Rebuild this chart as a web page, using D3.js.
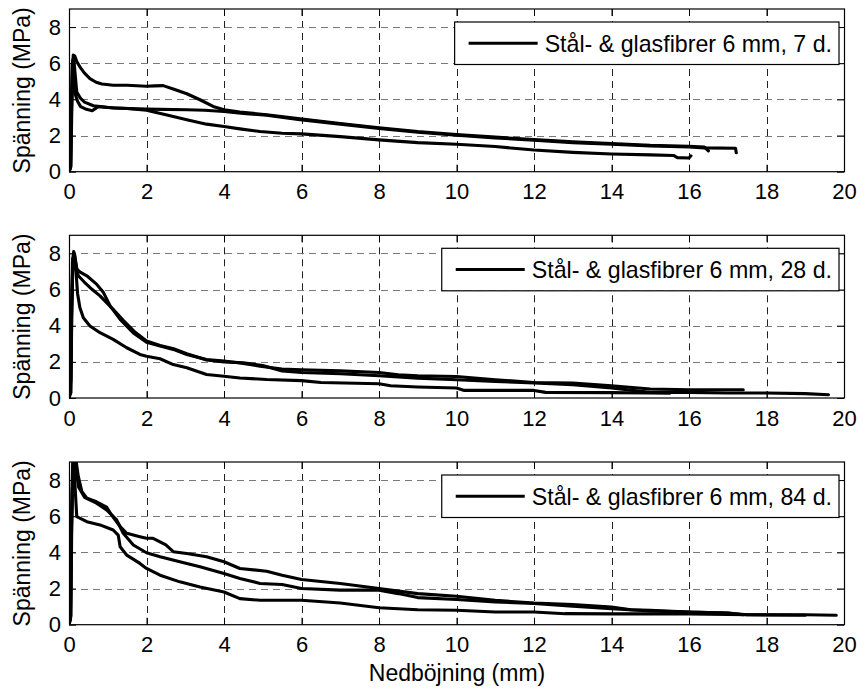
<!DOCTYPE html>
<html><head><meta charset="utf-8">
<script src="https://cdn.jsdelivr.net/npm/d3@7"></script>
<style>body{margin:0;background:#fff}svg{display:block}text{font-family:"Liberation Sans",Arial,sans-serif;fill:#000}</style>
</head><body>
<script>
const xTicks = [0,2,4,6,8,10,12,14,16,18,20];
const yTicks = [0,2,4,6,8];
const xLabel = "Nedböjning (mm)";
const yLabel = "Spänning (MPa)";
const legendLabels = ["Stål- & glasfibrer 6 mm, 7 d.", "Stål- & glasfibrer 6 mm, 28 d.", "Stål- & glasfibrer 6 mm, 84 d."];

// 7 days
const d7_A = [[0,0],[0.04,0.2],[0.06,3.0],[0.09,5.6],[0.11,6.45],[0.15,6.4],[0.2,6.1],[0.28,5.8],[0.4,5.45],[0.54,5.15],[0.7,4.95],[0.85,4.85],[1.14,4.78],[1.5,4.78],[2.0,4.73],[2.2,4.75],[2.43,4.76],[2.69,4.57],[3.04,4.31],[3.38,3.98],[3.72,3.61],[4.0,3.43],[4.41,3.3],[5.1,3.15],[5.96,2.92],[7,2.67],[8,2.43],[9,2.22],[10,2.06],[11,1.91],[12,1.78],[13,1.65],[14,1.56],[15,1.46],[16,1.41],[16.4,1.36],[16.5,1.15]];
const d7_B = [[0,0],[0.05,0.3],[0.07,3.2],[0.1,5.8],[0.12,6.3],[0.15,5.6],[0.2,4.4],[0.3,4.05],[0.4,3.85],[0.63,3.65],[1.14,3.52],[2,3.46],[3.04,3.43],[3.5,3.4],[4,3.33],[4.5,3.22],[5.1,3.12],[5.96,2.88],[7,2.63],[8,2.39],[9,2.18],[10,2.02],[11,1.87],[12,1.74],[13,1.61],[14,1.52],[15,1.42],[16,1.37],[16.4,1.32],[17.2,1.3],[17.22,1.05]];
const d7_C = [[0,0],[0.04,0.5],[0.06,3.5],[0.08,5.8],[0.1,6.2],[0.13,5.2],[0.16,4.3],[0.22,3.9],[0.3,3.6],[0.45,3.45],[0.6,3.37],[0.75,3.6],[1.0,3.55],[1.5,3.5],[2.0,3.4],[2.5,3.15],[3.04,2.87],[3.55,2.63],[4,2.5],[4.41,2.37],[4.93,2.22],[5.5,2.13],[6,2.09],[7,1.94],[8,1.76],[9,1.61],[10,1.52],[11,1.39],[12,1.2],[13,1.07],[14,0.98],[15,0.93],[15.6,0.9],[15.7,0.78],[16.0,0.76],[16.05,0.88]];

// 28 days
const d28_A = [[0,0],[0.04,0.5],[0.06,4],[0.09,7.5],[0.12,8.1],[0.15,7.9],[0.2,7.13],[0.3,6.95],[0.46,6.76],[0.71,6.3],[0.89,5.83],[1.06,5.1],[1.32,4.35],[1.66,3.6],[2,3.09],[2.35,2.87],[2.69,2.69],[3.04,2.41],[3.55,2.13],[4,2.04],[4.41,1.94],[4.93,1.76],[5.5,1.6],[6,1.56],[7,1.5],[8,1.41],[8.5,1.28],[9,1.23],[10,1.19],[11,1.01],[12,0.86],[13,0.83],[14,0.68],[15,0.5],[16,0.46],[17,0.46],[17.4,0.46]];
const d28_B = [[0,0],[0.05,0.3],[0.07,4.5],[0.1,7.6],[0.13,8.0],[0.17,7.5],[0.24,6.76],[0.4,6.4],[0.6,6.0],[0.8,5.65],[1.14,4.9],[1.4,4.3],[1.7,3.65],[2,3.15],[2.35,2.9],[2.7,2.72],[3.04,2.45],[3.55,2.1],[4,2.0],[4.5,1.95],[5,1.8],[5.5,1.5],[6,1.41],[7,1.34],[8,1.23],[9,1.1],[10,1.01],[11,0.92],[12,0.83],[13,0.73],[14,0.55],[15,0.31],[16,0.31],[17,0.28],[18,0.28],[19,0.24],[19.6,0.18]];
const d28_C = [[0,0],[0.05,1],[0.07,5],[0.1,7.7],[0.13,7.9],[0.18,7.0],[0.22,5.8],[0.28,5.0],[0.37,4.44],[0.54,3.98],[0.8,3.61],[1.14,3.24],[1.49,2.78],[1.83,2.41],[2,2.31],[2.35,2.17],[2.69,1.85],[3.04,1.67],[3.55,1.3],[4,1.2],[4.41,1.11],[5.1,1.02],[6,0.96],[6.5,0.86],[8,0.79],[8.3,0.68],[9,0.61],[10,0.55],[10.2,0.42],[12,0.42],[12.3,0.31],[14,0.3],[15,0.28],[15.5,0.27]];

// 84 days
const d84_A = [[0,0],[0.04,1],[0.06,5],[0.09,8.5],[0.12,9.6],[0.16,9.4],[0.2,8.8],[0.24,8.2],[0.33,7.37],[0.46,7.0],[0.71,6.8],[0.97,6.5],[1.1,6.07],[1.32,5.43],[1.49,5.06],[1.83,4.87],[2,4.78],[2.17,4.78],[2.5,4.41],[2.69,4.04],[3.04,3.94],[3.55,3.76],[4,3.48],[4.41,3.11],[5.1,2.96],[5.5,2.74],[6,2.5],[7,2.28],[8,2.0],[9,1.72],[10,1.57],[11,1.35],[12,1.2],[13,1.11],[14,0.98],[14.5,0.83],[15,0.8],[16,0.7],[17,0.65],[17.5,0.55],[19,0.55],[19.8,0.52]];
const d84_B = [[0,0],[0.05,0.5],[0.07,5.5],[0.1,9.0],[0.13,9.5],[0.18,8.6],[0.25,7.6],[0.4,7.05],[0.71,6.72],[0.97,6.35],[1.23,5.8],[1.4,5.06],[1.66,4.41],[2,3.98],[2.35,3.76],[2.86,3.48],[3.38,3.2],[4,2.83],[4.41,2.56],[4.93,2.28],[5.5,2.22],[6,2.0],[7,1.91],[8,1.91],[8.5,1.72],[9,1.5],[10,1.39],[11,1.26],[12,1.17],[13,1.02],[14,0.89],[15,0.76],[16,0.7],[17,0.65],[17.4,0.55]];
const d84_C = [[0,0],[0.04,0.3],[0.06,4.5],[0.09,8.0],[0.12,9.2],[0.16,7.5],[0.2,5.98],[0.46,5.7],[0.8,5.52],[1.14,5.24],[1.27,4.96],[1.32,4.31],[1.49,3.85],[1.83,3.39],[2,3.11],[2.35,2.74],[2.86,2.37],[3.38,2.09],[4,1.81],[4.41,1.44],[4.93,1.35],[6,1.35],[7,1.2],[8,0.94],[9,0.83],[10,0.8],[11,0.7],[12,0.7],[12.8,0.61],[14,0.6],[16,0.6],[17.5,0.55],[19,0.52]];

const panelSeries = [[d7_A,d7_B,d7_C],[d28_A,d28_B,d28_C],[d84_A,d84_B,d84_C]];

const W = 867, H = 691;
const left = 69, right = 844;
const tops = [9, 235.3, 462];
const ph = 162.7;
const FONT = "Liberation Sans, Arial, sans-serif";

const svg = d3.select("body").append("svg").attr("width", W).attr("height", H);
const x = d3.scaleLinear().domain([0,20]).range([left, right]);

panelSeries.forEach((series, i) => {
  const top = tops[i], bottom = top + ph;
  const y = d3.scaleLinear().domain([0,9]).range([bottom, top]);
  const g = svg.append("g");

  // grid
  g.selectAll(".vg").data(xTicks.slice(1, -1)).enter().append("line")
    .attr("x1", d => Math.round(x(d)) + 0.5).attr("x2", d => Math.round(x(d)) + 0.5)
    .attr("y1", top).attr("y2", bottom)
    .attr("stroke", "#222").attr("stroke-width", 1).attr("stroke-dasharray", "7,5");
  g.selectAll(".hg").data(yTicks.slice(1)).enter().append("line")
    .attr("x1", left).attr("x2", right)
    .attr("y1", d => Math.round(y(d)) + 0.5).attr("y2", d => Math.round(y(d)) + 0.5)
    .attr("stroke", "#7a7a7a").attr("stroke-width", 1).attr("stroke-dasharray", "7,5");

  // axes
  const xa = d3.axisBottom(x).tickValues(xTicks).tickSize(-7).tickPadding(12).tickFormat(d3.format("d"));
  const xt = d3.axisTop(x).tickValues(xTicks).tickSize(-7).tickFormat("");
  const ya = d3.axisLeft(y).tickValues(yTicks).tickSize(-7).tickPadding(8).tickFormat(d3.format("d"));
  const yr = d3.axisRight(y).tickValues(yTicks).tickSize(-7).tickFormat("");
  const gx = g.append("g").attr("transform", `translate(0,${bottom})`).call(xa);
  g.append("g").attr("transform", `translate(0,${top})`).call(xt);
  const gy = g.append("g").attr("transform", `translate(${left},0)`).call(ya);
  g.append("g").attr("transform", `translate(${right},0)`).call(yr);
  g.selectAll(".domain").remove();
  g.selectAll(".tick line").attr("stroke", "#000");
  gx.selectAll("text").attr("font-size", 22).attr("font-family", FONT).attr("fill", "#000");
  gy.selectAll("text").attr("font-size", 22).attr("font-family", FONT).attr("fill", "#000");

  // clip + lines
  const cid = "clip" + i;
  svg.append("clipPath").attr("id", cid).append("rect").attr("x", left).attr("y", top).attr("width", right-left).attr("height", ph);
  const line = d3.line().x(d => x(d[0])).y(d => y(d[1]));
  g.append("g").attr("clip-path", `url(#${cid})`).selectAll("path").data(series).enter().append("path")
    .attr("d", line).attr("fill", "none").attr("stroke", "#000").attr("stroke-width", 3.1)
    .attr("stroke-linejoin", "round").attr("stroke-linecap", "round");

  // frame
  g.append("rect").attr("x", left + 0.5).attr("y", top).attr("width", right-left).attr("height", ph)
    .attr("fill", "none").attr("stroke", "#000").attr("stroke-width", 1.2);

  // legend
  const lg = g.append("g");
  const lRight = 839, lTop = top + 13, lH = 42.5;
  const box = lg.append("rect");
  const txt = lg.append("text").text(legendLabels[i]).attr("font-size", 23.2)
    .attr("y", lTop + lH/2 + 8.3);
  const tw = txt.node().getComputedTextLength();
  const tx = lRight - 7 - tw;
  txt.attr("x", tx);
  const lx1 = tx - 76, lx2 = tx - 7;
  lg.append("line").attr("x1", lx1).attr("x2", lx2).attr("y1", lTop + lH/2).attr("y2", lTop + lH/2)
    .attr("stroke", "#000").attr("stroke-width", 3.1);
  box.attr("x", lx1 - 14).attr("y", lTop).attr("width", lRight - (lx1 - 14)).attr("height", lH)
    .attr("fill", "#fff").attr("stroke", "#000").attr("stroke-width", 1.2);

  // y label
  g.append("text").text(yLabel).attr("font-size", 23).attr("text-anchor", "middle")
    .attr("transform", `translate(29.5,${(top+bottom)/2}) rotate(-90)`);
});

svg.append("text").text(xLabel).attr("font-size", 23).attr("text-anchor", "middle")
  .attr("x", 457).attr("y", 681);
</script>
</body></html>
